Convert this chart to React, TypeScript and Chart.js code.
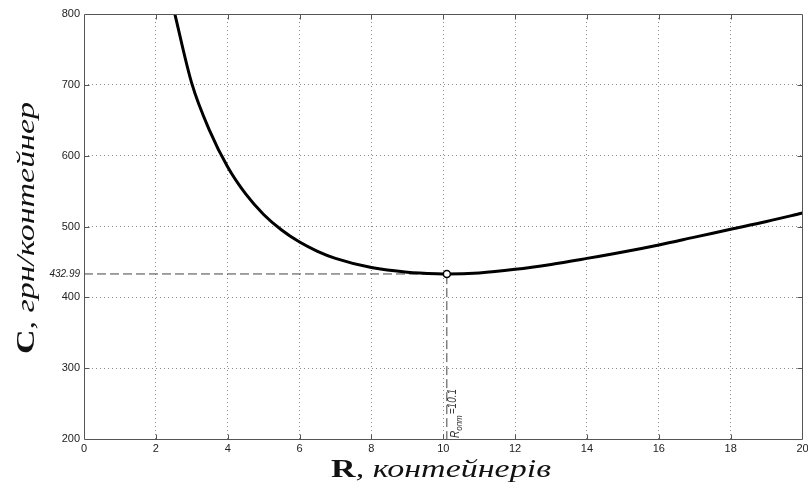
import React, { useEffect, useRef } from "react";
import { Chart, registerables } from "chart.js";

Chart.register(...registerables);

// ---- data ----
const rValues = [2.5, 3, 3.5, 4, 4.5, 5, 5.5, 6, 6.5, 7, 8, 9, 10, 10.1, 11, 12, 13, 14, 15, 16, 17, 18, 19, 20];
const cValues = [806, 702, 635, 584, 546, 517, 495, 478, 465, 455, 442, 435.5, 433.1, 432.99, 434.5, 439.5, 446.5, 455, 464, 474, 485, 496, 507, 519];
const rOpt = 10.1;
const cMin = 432.99;
const xTicks = [0, 2, 4, 6, 8, 10, 12, 14, 16, 18, 20];
const yTicks = [200, 300, 400, 500, 600, 700, 800];
const X_MIN = 0;
const X_MAX = 20;
const Y_MIN = 200;
const Y_MAX = 800;

const xTitleBold = "R";
const xTitleRest = ", контейнерів";
const yTitleBold = "C";
const yTitleRest = ", грн/контейнер";
const annMain = "R";
const annSub = "опт";
const annRest = "=" + rOpt.toFixed(1);

const SANS = '"Liberation Sans", Arial, sans-serif';
const SERIF = '"Liberation Serif", "Times New Roman", serif';

const TITLE_SIZE = 25;
const TITLE_STRETCH = 1.36;

const framePlugin = {
  id: "frame",
  afterDraw(chart: any) {
    const { ctx, chartArea: a, scales } = chart;
    const xs = scales.x;
    const ys = scales.y;
    ctx.save();
    // box
    ctx.strokeStyle = "#555";
    ctx.lineWidth = 1;
    ctx.setLineDash([]);
    const l = Math.round(a.left) + 0.5;
    const t = Math.round(a.top) + 0.5;
    const r = Math.round(a.right) - 0.5;
    const b = Math.round(a.bottom) + 0.5;
    ctx.beginPath();
    ctx.rect(l, t, r - l, b - t);
    ctx.stroke();
    // inward ticks
    const L = 5;
    ctx.beginPath();
    xTicks.forEach((v) => {
      if (v === X_MIN || v === X_MAX) return;
      const px = Math.round(xs.getPixelForValue(v)) + 0.5;
      ctx.moveTo(px, b);
      ctx.lineTo(px, b - L);
      ctx.moveTo(px, t);
      ctx.lineTo(px, t + L);
    });
    yTicks.forEach((v) => {
      if (v === Y_MIN || v === Y_MAX) return;
      const py = Math.round(ys.getPixelForValue(v)) + 0.5;
      ctx.moveTo(l, py);
      ctx.lineTo(l + L, py);
      ctx.moveTo(r, py);
      ctx.lineTo(r - L, py);
    });
    ctx.stroke();

    ctx.fillStyle = "#111";
    ctx.textBaseline = "alphabetic";
    ctx.textAlign = "left";
    const fb = "bold " + TITLE_SIZE + "px " + SERIF;
    const fi = "italic " + TITLE_SIZE + "px " + SERIF;

    // x title
    {
      ctx.font = fb;
      const w1 = ctx.measureText(xTitleBold).width;
      ctx.font = fi;
      const w2 = ctx.measureText(xTitleRest).width;
      const total = (w1 + w2) * TITLE_STRETCH;
      const cx = 441;
      ctx.save();
      ctx.translate(cx - total / 2, 477);
      ctx.scale(TITLE_STRETCH, 1);
      ctx.font = fb;
      ctx.fillText(xTitleBold, 0, 0);
      ctx.font = fi;
      ctx.fillText(xTitleRest, w1, 0);
      ctx.restore();
    }
    // y title
    {
      ctx.font = fb;
      const w1 = ctx.measureText(yTitleBold).width;
      ctx.font = fi;
      const w2 = ctx.measureText(yTitleRest).width;
      const total = (w1 + w2) * TITLE_STRETCH;
      const cy = 228;
      ctx.save();
      ctx.translate(34, cy + total / 2);
      ctx.rotate(-Math.PI / 2);
      ctx.scale(TITLE_STRETCH, 1);
      ctx.font = fb;
      ctx.fillText(yTitleBold, 0, 0);
      ctx.font = fi;
      ctx.fillText(yTitleRest, w1, 0);
      ctx.restore();
    }
    // R_opt annotation
    {
      const px = xs.getPixelForValue(rOpt);
      ctx.save();
      ctx.fillStyle = "#333";
      ctx.translate(px + 12, a.bottom - 1);
      ctx.rotate(-Math.PI / 2);
      ctx.scale(1, 1.2);
      ctx.font = "italic 10px " + SANS;
      ctx.fillText(annMain, 0, 0);
      const w1 = ctx.measureText(annMain).width;
      ctx.font = "italic 8px " + SANS;
      ctx.fillText(annSub, w1, 3);
      const w2 = ctx.measureText(annSub).width;
      ctx.font = "italic 10px " + SANS;
      ctx.fillText(annRest, w1 + w2 + 1, -2);
      ctx.restore();
    }
    ctx.restore();
  },
};

export default function App() {
  const ref = useRef<HTMLCanvasElement | null>(null);

  useEffect(() => {
    const canvas = ref.current;
    if (!canvas) return;
    const curve = rValues.map((r, i) => ({ x: r, y: cValues[i] }));
    const guide = [
      { x: X_MIN, y: cMin },
      { x: rOpt, y: cMin },
      { x: rOpt, y: Y_MIN },
    ];
    const chart = new Chart(canvas, {
      type: "line",
      data: {
        datasets: [
          {
            data: [{ x: rOpt, y: cMin }],
            showLine: false,
            pointRadius: 3.5,
            pointBackgroundColor: "#fff",
            pointBorderColor: "#000",
            pointBorderWidth: 1.5,
            order: 0,
          },
          {
            data: curve,
            borderColor: "#000",
            borderWidth: 3,
            pointRadius: 0,
            cubicInterpolationMode: "monotone",
            fill: false,
            order: 1,
          },
          {
            data: guide,
            borderColor: "#444",
            borderWidth: 1,
            borderDash: [9, 4],
            pointRadius: 0,
            tension: 0,
            fill: false,
            order: 2,
          },
        ],
      },
      options: {
        responsive: false,
        animation: false,
        devicePixelRatio: 1,
        layout: { padding: { top: 14, right: 1, left: 0, bottom: 0 } },
        plugins: {
          legend: { display: false },
          tooltip: { enabled: false },
          title: { display: false },
        },
        events: [],
        scales: {
          x: {
            type: "linear",
            min: X_MIN,
            max: X_MAX,
            afterBuildTicks: (s: any) => {
              s.ticks = xTicks.map((v) => ({ value: v }));
            },
            afterFit: (s: any) => {
              s.height = 49;
              s.paddingLeft = 0;
              s.paddingRight = 0;
            },
            ticks: {
              autoSkip: false,
              maxRotation: 0,
              padding: 3,
              color: "#222",
              font: { family: SANS, size: 11 },
              callback: (v: any) => String(v),
            },
            grid: {
              drawTicks: false,
              lineWidth: 1,
              color: (c: any) =>
                c.tick && (c.tick.value === X_MIN || c.tick.value === X_MAX) ? "rgba(0,0,0,0)" : "#8a8a8a",
            },
            border: { display: false, dash: [1, 3] },
          },
          y: {
            type: "linear",
            min: Y_MIN,
            max: Y_MAX,
            afterBuildTicks: (s: any) => {
              const vals = [...yTicks, cMin].sort((p, q) => p - q);
              s.ticks = vals.map((v) => ({ value: v }));
            },
            afterFit: (s: any) => {
              s.width = 84;
              s.paddingTop = 0;
              s.paddingBottom = 0;
            },
            ticks: {
              autoSkip: false,
              padding: 4,
              color: "#222",
              font: (c: any) =>
                c.tick && c.tick.value === cMin
                  ? { family: SANS, size: 10, style: "italic" }
                  : { family: SANS, size: 11, style: "normal" },
              callback: (v: any) => (v === cMin ? cMin.toFixed(2) : String(v)),
            },
            grid: {
              drawTicks: false,
              lineWidth: 1,
              color: (c: any) =>
                c.tick && (c.tick.value === cMin || c.tick.value === Y_MIN || c.tick.value === Y_MAX)
                  ? "rgba(0,0,0,0)"
                  : "#8a8a8a",
            },
            border: { display: false, dash: [1, 3] },
          },
        },
      },
      plugins: [framePlugin],
    } as any);
    return () => chart.destroy();
  }, []);

  return (
    <div style={{ position: "fixed", left: 0, top: 0, width: 808, height: 488, background: "#fff" }}>
      <canvas ref={ref} width={808} height={488} style={{ display: "block" }} />
    </div>
  );
}
